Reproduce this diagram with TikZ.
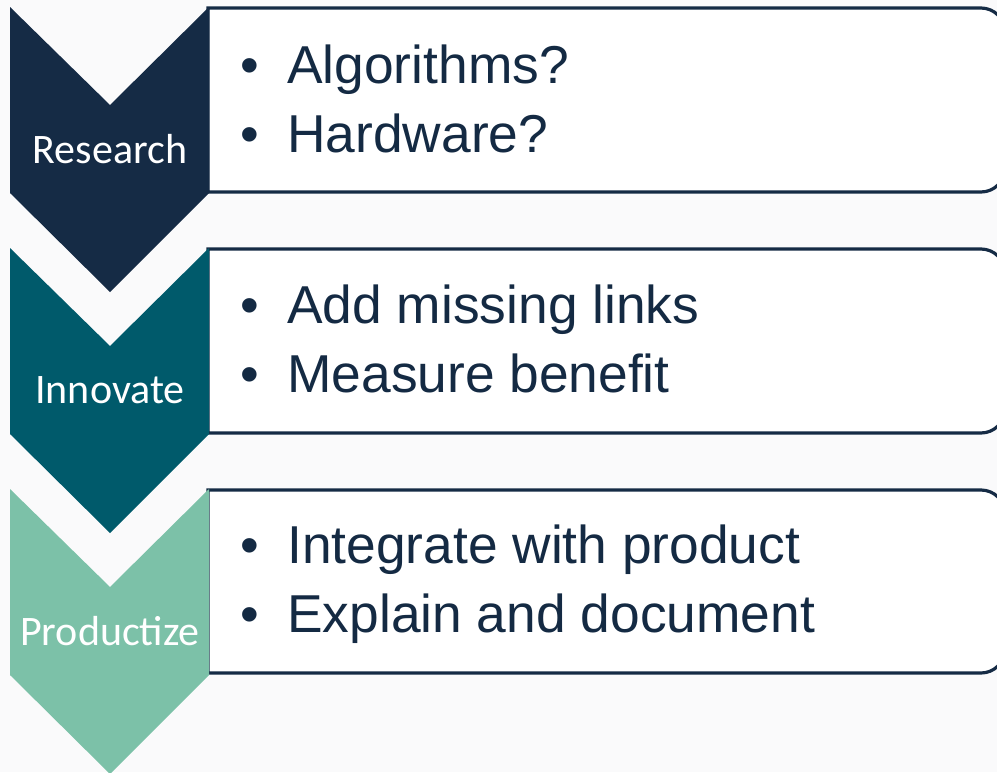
\documentclass[tikz,border=0pt]{standalone}
\usepackage{fontspec}
\setmainfont{Liberation Sans}
\newfontfamily\labelfont{Carlito}
\definecolor{bgc}{RGB}{250,250,251}
\definecolor{navy}{RGB}{21,43,69}
\definecolor{tealc}{RGB}{0,90,107}
\definecolor{mint}{RGB}{124,193,168}
\definecolor{txt}{RGB}{20,42,67}
\begin{document}
\begin{tikzpicture}[x=0.75pt,y=-0.75pt,
  itembox/.style={draw=navy,line width=2.4pt,fill=white},
  chevlabel/.style={font=\labelfont\fontsize{31.5}{36}\selectfont,text=white,anchor=base,inner sep=0pt},
  bulletdot/.style={font=\fontsize{40}{46}\selectfont,text=txt,anchor=base,inner sep=0pt},
  itemtext/.style={font=\fontsize{40}{46}\selectfont,text=txt,anchor=base west,inner sep=0pt}]
\useasboundingbox (0,0) rectangle (997,772);
\fill[bgc] (0,0) rectangle (997,772);
\begin{scope}
\clip (0,0) rectangle (997,772);
% boxes
\draw[itembox] (208,8) -- (981,8) arc[start angle=90,end angle=0,radius=18pt]
  -- (1005,168) arc[start angle=0,end angle=-90,radius=18pt] -- (208,192) -- cycle;
\draw[itembox] (208,249) -- (981,249) arc[start angle=90,end angle=0,radius=18pt]
  -- (1005,409) arc[start angle=0,end angle=-90,radius=18pt] -- (208,433) -- cycle;
\draw[itembox] (208,490) -- (981,490) arc[start angle=90,end angle=0,radius=18pt]
  -- (1005,649) arc[start angle=0,end angle=-90,radius=18pt] -- (208,673) -- cycle;
% chevrons
\fill[navy] (10,7) -- (110,105) -- (209,7) -- (209,193) -- (110,292) -- (10,193) -- cycle;
\fill[tealc] (10,248) -- (110,346) -- (209,248) -- (209,434) -- (110,533) -- (10,434) -- cycle;
\fill[mint] (10,489) -- (110,587) -- (209,489) -- (209,675) -- (110,774) -- (10,675) -- cycle;
\end{scope}
% labels
\node[chevlabel] (lres) at (110,163) {Research};
\node[chevlabel] (linn) at (110,403) {Innovate};
\node[chevlabel] (lpro) at (110,645) {Productize};
% items
\node[bulletdot] (b1) at (250,83) {•};
\node[itemtext] (t1) at (287,83) {Algorithms?};
\node[bulletdot] (b2) at (250,152) {•};
\node[itemtext] (t2) at (287,152) {Hardware?};
\node[bulletdot] (b3) at (250,323) {•};
\node[itemtext] (t3) at (287,323) {Add missing links};
\node[bulletdot] (b4) at (250,392) {•};
\node[itemtext] (t4) at (287,392) {Measure benefit};
\node[bulletdot] (b5) at (250,563) {•};
\node[itemtext] (t5) at (287,563) {Integrate with product};
\node[bulletdot] (b6) at (250,632) {•};
\node[itemtext] (t6) at (287,632) {Explain and document};
\end{tikzpicture}
\end{document}
